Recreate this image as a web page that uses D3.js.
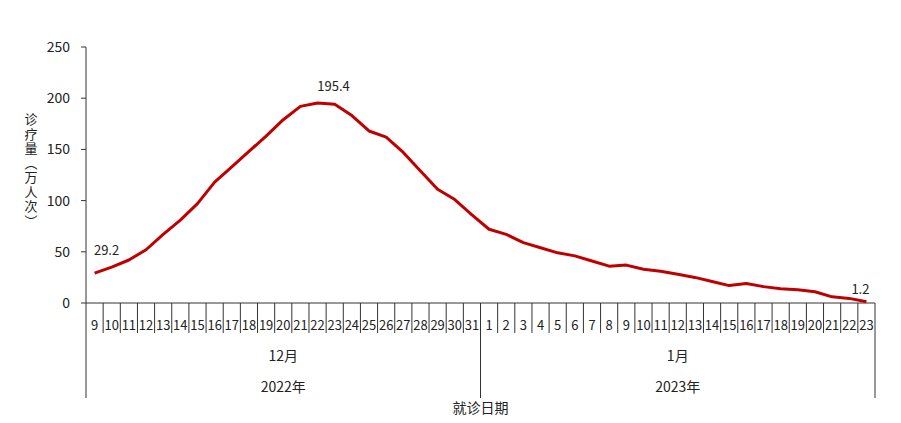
<!DOCTYPE html>
<html><head><meta charset="utf-8">
<script src="https://cdn.jsdelivr.net/npm/d3@7"></script>
<style>body{margin:0;background:#fff}text{font-family:"Noto Sans CJK SC","DejaVu Sans",sans-serif;fill:#222}</style>
</head><body><svg width="901" height="423"></svg>
<script>
// days shown on the x axis
const decDays = d3.range(9, 32).map(String);
const janDays = d3.range(1, 24).map(String);
const decValues = [29.2,35,42,52,67,81,97,118,133,148,163,179,192,195.4,194,183,168,162,147,129,111,101,86];
const janValues = [72,67,59,54,49,46,41,36,37,33,31,28,25,21,17,19,16,14,13,11,6,4.5,1.2];
const yTicks = [0, 50, 100, 150, 200, 250];

const data = decDays.map((d, i) => ({key: "D" + d, label: d, v: decValues[i]}))
  .concat(janDays.map((d, i) => ({key: "J" + d, label: d, v: janValues[i]})));

const svg = d3.select("svg");
const mLeft = 86, mRight = 875, mTop = 47, mBottom = 303;

const x = d3.scaleBand().domain(data.map(d => d.key)).range([mLeft, mRight]);
const y = d3.scaleLinear().domain([0, 250]).range([mBottom, mTop]);

// y axis
svg.append("line").attr("x1", mLeft).attr("x2", mLeft).attr("y1", mTop).attr("y2", 398).attr("stroke", "#333");
yTicks.forEach(t => {
  svg.append("line").attr("x1", mLeft - 5).attr("x2", mLeft).attr("y1", y(t)).attr("y2", y(t)).attr("stroke", "#333");
  svg.append("text").attr("x", mLeft - 16).attr("y", y(t) + 5).attr("text-anchor", "end")
    .attr("font-size", 14).text(t);
});

// x axis
svg.append("line").attr("x1", mLeft).attr("x2", mRight).attr("y1", mBottom).attr("y2", mBottom).attr("stroke", "#333");
data.forEach((d, i) => {
  const x0 = x(d.key);
  if (i > 0) svg.append("line").attr("x1", x0).attr("x2", x0).attr("y1", mBottom).attr("y2", 333).attr("stroke", "#333");
  svg.append("text").attr("x", x0 + x.bandwidth() / 2).attr("y", 330).attr("text-anchor", "middle")
    .attr("font-size", 13).text(d.label);
});
const mid = x("J1");
svg.append("line").attr("x1", mid).attr("x2", mid).attr("y1", mBottom).attr("y2", 398).attr("stroke", "#333");
svg.append("line").attr("x1", mRight).attr("x2", mRight).attr("y1", mBottom).attr("y2", 398).attr("stroke", "#333");

svg.append("text").attr("x", (mLeft + mid) / 2).attr("y", 361).attr("text-anchor", "middle").attr("font-size", 14).text("12月");
svg.append("text").attr("x", (mid + mRight) / 2).attr("y", 361).attr("text-anchor", "middle").attr("font-size", 14).text("1月");
svg.append("text").attr("x", (mLeft + mid) / 2).attr("y", 392).attr("text-anchor", "middle").attr("font-size", 14).text("2022年");
svg.append("text").attr("x", (mid + mRight) / 2).attr("y", 392).attr("text-anchor", "middle").attr("font-size", 14).text("2023年");
svg.append("text").attr("x", mid).attr("y", 413).attr("text-anchor", "middle").attr("font-size", 14).text("就诊日期");

// y title, vertical
svg.append("text").attr("x", 31).attr("y", 113)
  .style("writing-mode", "vertical-rl").style("text-orientation", "upright")
  .attr("font-size", 13).attr("letter-spacing", 1.5).attr("fill", "#333")
  .text("诊疗量（万人次）");

// line
const line = d3.line().x(d => x(d.key) + x.bandwidth() / 2).y(d => y(d.v));
svg.append("path").datum(data).attr("d", line).attr("fill", "none")
  .attr("stroke", "#c00000").attr("stroke-width", 3).attr("stroke-linejoin", "round");

// labels
[[0, 12, -18], [13, 16, -12], [45, -6, -8]].forEach(([i, dx, dy]) => {
  const d = data[i];
  svg.append("text").attr("x", x(d.key) + x.bandwidth() / 2 + dx).attr("y", y(d.v) + dy)
    .attr("text-anchor", "middle").attr("font-size", 13).text(d.v);
});
</script></body></html>
